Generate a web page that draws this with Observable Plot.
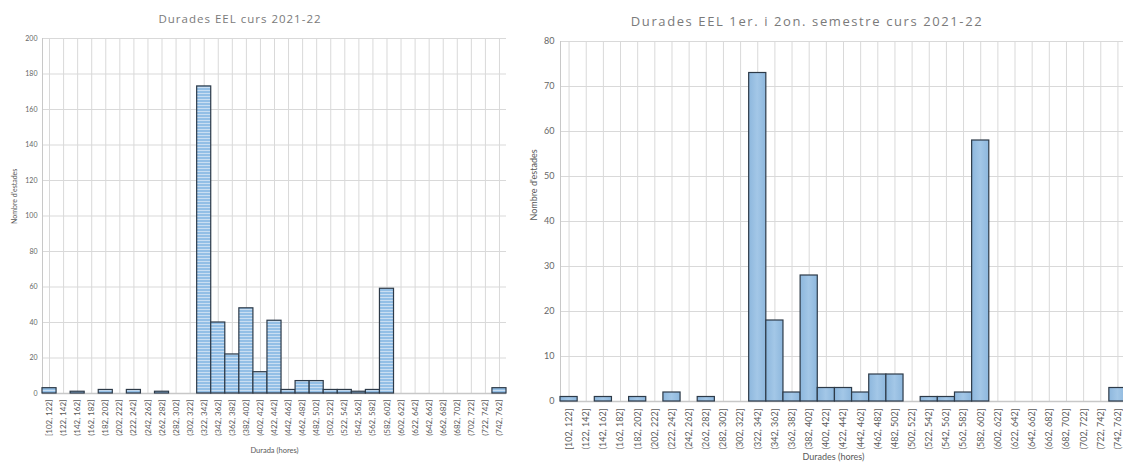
<!DOCTYPE html>
<html><head><meta charset="utf-8">
<script src="https://cdn.jsdelivr.net/npm/d3@7"></script>
<script src="https://cdn.jsdelivr.net/npm/@observablehq/plot@0.6"></script>
<style>
html,body{margin:0;padding:0;background:#fff}
#wrap{position:relative;width:1123px;height:463px;overflow:hidden;font-family:Lato,"Open Sans",sans-serif}
.panel{position:absolute;top:0}
.panel svg{max-width:none !important;display:block}
.title{position:absolute;color:#7a7a7a;white-space:nowrap;transform:translateX(-50%);font-family:"Open Sans",Lato,sans-serif}
</style></head><body><div id="wrap"></div>
<script>
const bins = ["[102, 122]","(122, 142]","(142, 162]","(162, 182]","(182, 202]","(202, 222]","(222, 242]","(242, 262]","(262, 282]","(282, 302]","(302, 322]","(322, 342]","(342, 362]","(362, 382]","(382, 402]","(402, 422]","(422, 442]","(442, 462]","(462, 482]","(482, 502]","(502, 522]","(522, 542]","(542, 562]","(562, 582]","(582, 602]","(602, 622]","(622, 642]","(642, 662]","(662, 682]","(682, 702]","(702, 722]","(722, 742]","(742, 762]"];
const countsCurs = [3,0,1,0,2,0,2,0,1,0,0,173,40,22,48,12,41,2,7,7,2,2,1,2,59,0,0,0,0,0,0,0,3];
const countsSemestres = [1,0,1,0,1,0,2,0,1,0,0,73,18,2,28,3,3,2,6,6,0,1,1,2,58,0,0,0,0,0,0,0,3];
const yTicksCurs = [0,20,40,60,80,100,120,140,160,180,200];
const yTicksSemestres = [0,10,20,30,40,50,60,70,80];
const titleCurs = "Durades EEL curs 2021-22";
const titleSemestres = "Durades EEL 1er. i 2on. semestre curs 2021-22";
const xLabelCurs = "Durada (hores)";
const xLabelSemestres = "Durades (hores)";
const yLabel = "Nombre d'estades";

function rows(counts){
  return bins.map((b,i)=>{
    const [lo,hi] = b.replace(/[\[\]\(\)]/g,"").split(",").map(Number);
    return {bin:b, lo, hi, mid:(lo+hi)/2, v:counts[i]};
  });
}

const wrap = document.getElementById("wrap");

function panel(cfg){
  const data = rows(cfg.counts);
  const mids = data.map(d=>d.mid);
  const labelOf = new Map(data.map(d=>[d.mid,d.bin]));
  const x0 = data[0].lo, x1 = data[data.length-1].hi;
  const svg = Plot.plot({
    width: cfg.width, height: 463,
    marginLeft: cfg.ml, marginRight: cfg.mr, marginTop: cfg.mt, marginBottom: cfg.mb,
    style: {fontFamily: "Lato, 'Open Sans', sans-serif", background: "transparent", overflow: "visible", maxWidth: "none"},
    x: {domain: [x0, x1], axis: null},
    y: {domain: [cfg.yTicks[0], cfg.yTicks[cfg.yTicks.length-1]], axis: null},
    marks: [
      Plot.gridY(cfg.yTicks, {stroke: "#d9d9d9", strokeOpacity: 1, strokeWidth: 1}),
      Plot.gridX(mids, {stroke: "#d9d9d9", strokeOpacity: 1, strokeWidth: 1}),
      Plot.ruleY([0], {stroke: "#c8c8c8", strokeWidth: 1.5}),
      Plot.ruleX([x0], {stroke: "#c8c8c8", strokeWidth: 1}),
      Plot.rectY(data.filter(d=>d.v>0), {x1: "lo", x2: "hi", y: "v", fill: cfg.fill, stroke: "#2d3a48", strokeWidth: 1.2}),
      Plot.axisY(cfg.yTicks, {tickSize: 0, tickPadding: cfg.ytp, fontSize: cfg.yfs, fill: "#666", label: null}),
      Plot.axisX(mids, {tickSize: 0, tickPadding: cfg.xtp, tickRotate: -90, tickFormat: m => labelOf.get(m), fontSize: cfg.xfs, fill: "#595959", label: null}),
      Plot.text([cfg.xLabel], {frameAnchor: "bottom", dy: cfg.xlDy, dx: cfg.xlDx, fontSize: cfg.xlfs, fill: "#595959"}),
      Plot.text([yLabel], {frameAnchor: "left", rotate: -90, dx: cfg.ylDx, dy: cfg.ylDy, fontSize: cfg.ylfs, fill: "#595959"})
    ]
  });
  d3.select(svg).insert("defs", ":first-child").html(`
    <pattern id="stripes" width="6" height="3" patternUnits="userSpaceOnUse">
      <rect width="6" height="3" fill="#93bfe6"/>
      <rect width="6" height="1" fill="#c9def2"/>
    </pattern>
    <linearGradient id="grad" x1="0" x2="1" y1="0" y2="0">
      <stop offset="0" stop-color="#8db7dd"/>
      <stop offset="0.5" stop-color="#a3c7e7"/>
      <stop offset="1" stop-color="#8db7dd"/>
    </linearGradient>`);
  const div = document.createElement("div");
  div.className = "panel";
  div.style.left = cfg.left + "px";
  div.style.width = cfg.width + "px";
  div.style.height = "463px";
  div.appendChild(svg);
  wrap.appendChild(div);
  const t = document.createElement("div");
  t.className = "title";
  t.textContent = cfg.title;
  t.style.left = cfg.tx + "px";
  t.style.top = cfg.ty + "px";
  t.style.fontSize = cfg.tfs + "px";
  t.style.letterSpacing = cfg.tls + "px";
  wrap.appendChild(t);
}

panel({counts: countsCurs, yTicks: yTicksCurs, title: titleCurs, xLabel: xLabelCurs,
  left: 0, width: 520, ml: 42, mr: 14, mt: 38, mb: 70,
  fill: "url(#stripes)", ytp: 5, yfs: 7, xtp: 6, xfs: 8, xlDy: 59, xlDx: 0, xlfs: 7.5, ylDx: -28, ylDy: 8, ylfs: 7,
  tx: 240, ty: 11, tfs: 11.5, tls: 1});

panel({counts: countsSemestres, yTicks: yTicksSemestres, title: titleSemestres, xLabel: xLabelSemestres,
  left: 520, width: 610, ml: 40, mr: 4, mt: 41, mb: 62,
  fill: "url(#grad)", ytp: 6, yfs: 9, xtp: 7, xfs: 9, xlDy: 58, xlDx: -10, xlfs: 9, ylDx: -26, ylDy: -1, ylfs: 9,
  tx: 807, ty: 12, tfs: 13, tls: 1.6});
</script>
</body></html>
